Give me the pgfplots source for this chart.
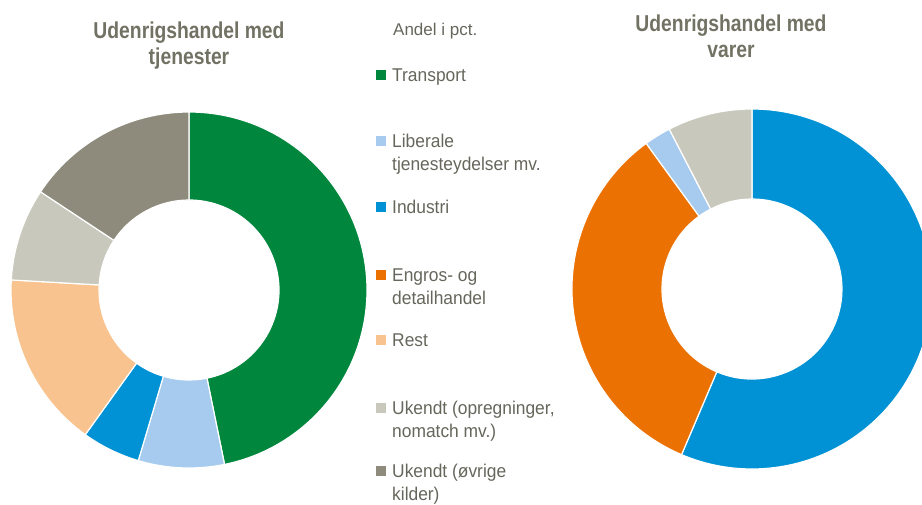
\documentclass[border=0pt]{standalone}
\usepackage{fontspec}
\setmainfont{Liberation Sans}
\newfontfamily\titlefont[FakeStretch=0.84]{Liberation Sans}
\newfontfamily\legfont[FakeStretch=0.94]{Liberation Sans}
\usepackage{pgfplots}
\usepackage{pgfplotstable}
\pgfplotsset{compat=1.18}

\definecolor{cTransport}{HTML}{00873D}
\definecolor{cLiberale}{HTML}{A6CBEE}
\definecolor{cIndustri}{HTML}{0092D5}
\definecolor{cEngros}{HTML}{EC7103}
\definecolor{cRest}{HTML}{F8C38E}
\definecolor{cUkendtA}{HTML}{C8C8BC}
\definecolor{cUkendtB}{HTML}{8E8B7D}
\definecolor{titlegrey}{HTML}{727264}
\definecolor{textgrey}{HTML}{66665C}

% shares in pct., clockwise from 12 o'clock
\pgfplotstableread[col sep=comma]{
share,colour
46.8,cTransport
7.8,cLiberale
5.3,cIndustri
16.0,cRest
8.4,cUkendtA
15.7,cUkendtB
}\tjenester

\pgfplotstableread[col sep=comma]{
share,colour
56.4,cIndustri
33.6,cEngros
2.4,cLiberale
7.6,cUkendtA
}\varer

% #1 table, #2/#3 centre (axis units = px), #4 outer radius, #5 inner radius
\newcommand\donut[5]{%
  \pgfplotstablegetrowsof{#1}%
  \pgfmathtruncatemacro\nlast{\pgfplotsretval-1}%
  \def\cum{0}%
  \pgfplotsforeachungrouped \segidx in {0,...,\nlast}{%
    \pgfplotstablegetelem{\segidx}{share}\of{#1}\let\share\pgfplotsretval
    \pgfplotstablegetelem{\segidx}{colour}\of{#1}\let\segcol\pgfplotsretval
    \pgfmathsetmacro\angA{90-3.6*\cum}%
    \pgfmathsetmacro\angB{90-3.6*(\cum+\share)}%
    \edef\temp{\noexpand\fill[\segcol, draw=white, line width=1.2pt]
      ([shift={(\angA:#4pt)}]axis cs:#2,#3)
      arc[start angle=\angA, end angle=\angB, radius=#4pt]
      -- ([shift={(\angB:#5pt)}]axis cs:#2,#3)
      arc[start angle=\angB, end angle=\angA, radius=#5pt] -- cycle;}%
    \temp
    \pgfmathsetmacro\cum{\cum+\share}%
  }%
}

% legend entry: baseline y, colour, first line, second line
\newcommand\legentry[4]{%
  \fill[#2] (axis cs:376,#1-11.5) rectangle (axis cs:386,#1-1.5);
  \node[anchor=base west, inner sep=0pt, text=textgrey,
        font=\legfont\fontsize{18.5}{22}\selectfont] at (axis cs:392,#1) {#3};
  \node[anchor=base west, inner sep=0pt, text=textgrey,
        font=\legfont\fontsize{18.5}{22}\selectfont] at (axis cs:392,#1+23) {#4};
}

\begin{document}
\begin{tikzpicture}
  \begin{axis}[
      name=main,
      width=922pt, height=504pt, scale only axis,
      xmin=0, xmax=922, ymin=0, ymax=504, y dir=reverse,
      hide axis, clip=true,
    ]
    \donut{\tjenester}{189}{290}{178}{90}
    \donut{\varer}{752}{289}{180}{90}

    \node[anchor=base, inner sep=0pt, text=titlegrey,
          font=\titlefont\bfseries\fontsize{23}{26}\selectfont]
          at (axis cs:189,38) {Udenrigshandel med};
    \node[anchor=base, inner sep=0pt, text=titlegrey,
          font=\titlefont\bfseries\fontsize{23}{26}\selectfont]
          at (axis cs:189,64) {tjenester};
    \node[anchor=base, inner sep=0pt, text=titlegrey,
          font=\titlefont\bfseries\fontsize{23}{26}\selectfont]
          at (axis cs:731,31) {Udenrigshandel med};
    \node[anchor=base, inner sep=0pt, text=titlegrey,
          font=\titlefont\bfseries\fontsize{23}{26}\selectfont]
          at (axis cs:731,57) {varer};

    \node[anchor=base west, inner sep=0pt, text=textgrey,
          font=\fontsize{17}{20}\selectfont] at (axis cs:393,35) {Andel i pct.};

    \legentry{81.5}{cTransport}{Transport}{}
    \legentry{147}{cLiberale}{Liberale}{tjenesteydelser mv.}
    \legentry{213}{cIndustri}{Industri}{}
    \legentry{281}{cEngros}{Engros- og}{detailhandel}
    \legentry{346}{cRest}{Rest}{}
    \legentry{414}{cUkendtA}{Ukendt (opregninger,}{nomatch mv.)}
    \legentry{477}{cUkendtB}{Ukendt (øvrige}{kilder)}
  \end{axis}
  \pgfresetboundingbox
  \useasboundingbox (main.south west) rectangle (main.north east);
\end{tikzpicture}
\end{document}
